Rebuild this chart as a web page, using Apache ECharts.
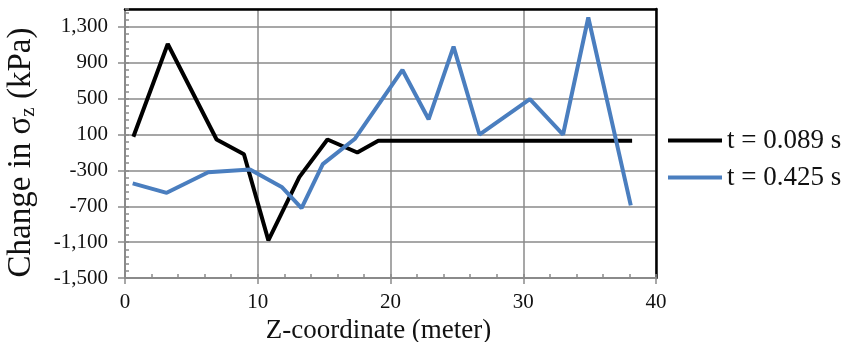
<!DOCTYPE html>
<html>
<head>
<meta charset="utf-8">
<script src="https://cdn.jsdelivr.net/npm/echarts@6/dist/echarts.min.js"></script>
<style>
  html, body { margin: 0; padding: 0; background: #fff; }
  #chart { width: 842px; height: 342px; }
</style>
</head>
<body>
<div id="chart"></div>
<script>
// values
const zBlack = [0.63, 3.22, 6.9, 8.96, 10.8, 13.13, 15.25, 17.5, 19.08, 20.9, 22.87, 24.75, 26.7, 30.5, 33.0, 34.9, 38.2]
const sigmaBlack = [75, 1110, 45, -120, -1080, -375, 45, -100, 30, 30, 30, 30, 30, 30, 30, 30, 30]
const zBlue = [0.58, 3.14, 6.27, 9.42, 11.8, 13.3, 14.9, 17.3, 20.9, 22.87, 24.75, 26.7, 30.5, 33.0, 34.9, 38.1]
const sigmaBlue = [-445, -550, -320, -290, -485, -720, -230, 50, 820, 270, 1080, 100, 495, 100, 1405, -690]
const seriesNames = ['t = 0.089 s', 't = 0.425 s']
const yTickLabels = ['-1,500', '-1,100', '-700', '-300', '100', '500', '900', '1,300']

const font = 'Liberation Serif'
const textColor = '#111'
const gridColor = '#8a8a8a'

const pairs = (xs, ys) => xs.map((x, i) => [x, ys[i]])

const chart = echarts.init(document.getElementById('chart'), null, { renderer: 'canvas' })

const option = {
  animation: false,
  backgroundColor: '#fff',
  grid: { left: 125, right: 186, top: 9, bottom: 64, containLabel: false, outerBoundsMode: 'none' },
  legend: {
    orient: 'vertical',
    left: 663,
    top: 122,
    itemWidth: 54,
    itemHeight: 4,
    itemGap: 10,
    icon: 'rect',
    textStyle: { fontFamily: font, fontSize: 27, color: textColor },
    data: seriesNames,
  },
  xAxis: [
    {
      type: 'value',
      min: 0,
      max: 40,
      interval: 10,
      name: 'Z-coordinate (meter)',
      nameLocation: 'middle',
      nameGap: 34,
      nameTextStyle: { fontFamily: font, fontSize: 27, color: textColor, padding: [0, 24, 0, 0] },
      axisLine: { onZero: false, lineStyle: { color: gridColor, width: 2 } },
      axisTick: { show: true, length: 6, lineStyle: { color: gridColor, width: 1.5 } },
      axisLabel: { fontFamily: font, fontSize: 21, color: textColor, margin: 14 },
      splitLine: { show: true, lineStyle: { color: gridColor, width: 1.5 } },
    },
    {
      // minor ticks, pointing inward
      type: 'value',
      min: 0,
      max: 40,
      interval: 2,
      position: 'bottom',
      axisLine: { show: false, onZero: false },
      axisTick: { show: true, inside: true, length: 4, lineStyle: { color: gridColor, width: 1.5 } },
      axisLabel: { show: false },
      splitLine: { show: false },
    },
    {
      // black frame on top
      type: 'value',
      min: 0,
      max: 40,
      position: 'top',
      axisLine: { show: true, onZero: false, lineStyle: { color: '#000', width: 2.5 } },
      axisTick: { show: false },
      axisLabel: { show: false },
      splitLine: { show: false },
    },
  ],
  yAxis: [
    {
      // data axis
      type: 'value',
      min: -1500,
      max: 1500,
      axisLine: { show: false, onZero: false },
      axisTick: { show: false },
      axisLabel: { show: false },
      splitLine: { show: false },
    },
    {
      // labelled axis, offset by 1500 so the ticks fall on -1500, -1100, ...
      type: 'value',
      min: 0,
      max: 3000,
      interval: 400,
      position: 'left',
      name: '{a|Change in σ}{s|z}{a| (kPa)}',
      nameLocation: 'middle',
      nameGap: 86,
      nameRotate: 90,
      nameTextStyle: {
        color: textColor,
        padding: [0, 18, 0, 0],
        rich: {
          a: { fontFamily: font, fontSize: 33, color: textColor },
          s: { fontFamily: font, fontSize: 21, color: textColor, padding: [14, 0, 0, 0] },
        },
      },
      axisLine: { show: true, onZero: false, lineStyle: { color: gridColor, width: 2 } },
      axisTick: { show: true, length: 7, lineStyle: { color: gridColor, width: 1.5 } },
      axisLabel: {
        fontFamily: font,
        fontSize: 21,
        color: textColor,
        margin: 17,
        showMaxLabel: false,
        formatter: (v) => yTickLabels[Math.round(v / 400)] || '',
      },
      splitLine: { show: true, lineStyle: { color: gridColor, width: 1.5 } },
    },
    {
      // minor ticks, pointing inward
      type: 'value',
      min: 0,
      max: 3000,
      interval: 80,
      position: 'left',
      axisLine: { show: false, onZero: false },
      axisTick: { show: true, inside: true, length: 4, lineStyle: { color: gridColor, width: 1.5 } },
      axisLabel: { show: false },
      splitLine: { show: false },
    },
    {
      // black frame on the right
      type: 'value',
      min: -1500,
      max: 1500,
      position: 'right',
      axisLine: { show: true, onZero: false, lineStyle: { color: '#000', width: 2.5 } },
      axisTick: { show: false },
      axisLabel: { show: false },
      splitLine: { show: false },
    },
  ],
  series: [
    {
      name: seriesNames[0],
      type: 'line',
      xAxisIndex: 0,
      yAxisIndex: 0,
      data: pairs(zBlack, sigmaBlack),
      showSymbol: false,
      color: '#000',
      lineStyle: { color: '#000', width: 4 },
      z: 5,
    },
    {
      name: seriesNames[1],
      type: 'line',
      xAxisIndex: 0,
      yAxisIndex: 0,
      data: pairs(zBlue, sigmaBlue),
      showSymbol: false,
      color: '#4a7ebf',
      lineStyle: { color: '#4a7ebf', width: 4 },
      z: 6,
    },
  ],
}

chart.setOption(option)
</script>
</body>
</html>
